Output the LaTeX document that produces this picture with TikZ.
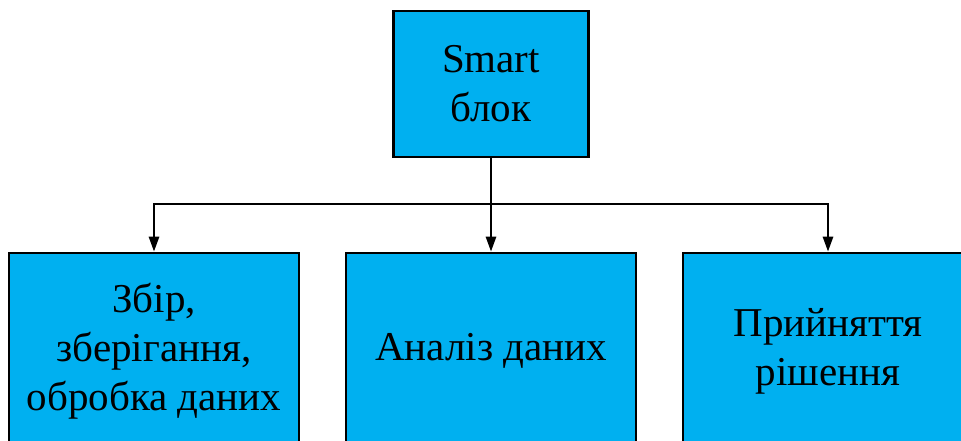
\documentclass[tikz,border=0pt]{standalone}
\usepackage{fontspec}
\setmainfont{Liberation Serif}
\usetikzlibrary{arrows.meta}
\definecolor{boxblue}{HTML}{00B0F0}
\tikzset{
  blockbox/.style={draw=black, fill=boxblue, line width=2.6pt, inner sep=0pt,
    align=center, font=\fontsize{41}{49}\selectfont},
  topbox/.style={blockbox, minimum width=195pt, minimum height=146pt},
  subbox/.style={blockbox, minimum width=290pt, minimum height=196pt},
  link/.style={line width=2.6pt, -{Triangle[length=15pt,width=10pt]}}
}
\begin{document}
\begin{tikzpicture}[x=1pt, y=-1pt]
  \useasboundingbox (0,0) rectangle (961,441);
  \clip (0,0) rectangle (961,441);
  \fill[white] (0,0) rectangle (961,441);

  % parent block
  \node[topbox] (smart) at (491,84) {Smart\\блок};

  % three child blocks
  \node[subbox] (collect) at (154,351) {Збір,\\зберігання,\\обробка даних};
  \node[subbox] (analysis) at (491,351) {Аналіз даних};
  \node[subbox] (decision) at (828,351) {Прийняття\\рішення};

  % branching point of the connectors
  \coordinate (fork) at (491,204);

  \draw[link] (smart.south) -- (analysis.north);
  \draw[link] (fork) -| (collect.north);
  \draw[link] (fork) -| (decision.north);
\end{tikzpicture}
\end{document}
